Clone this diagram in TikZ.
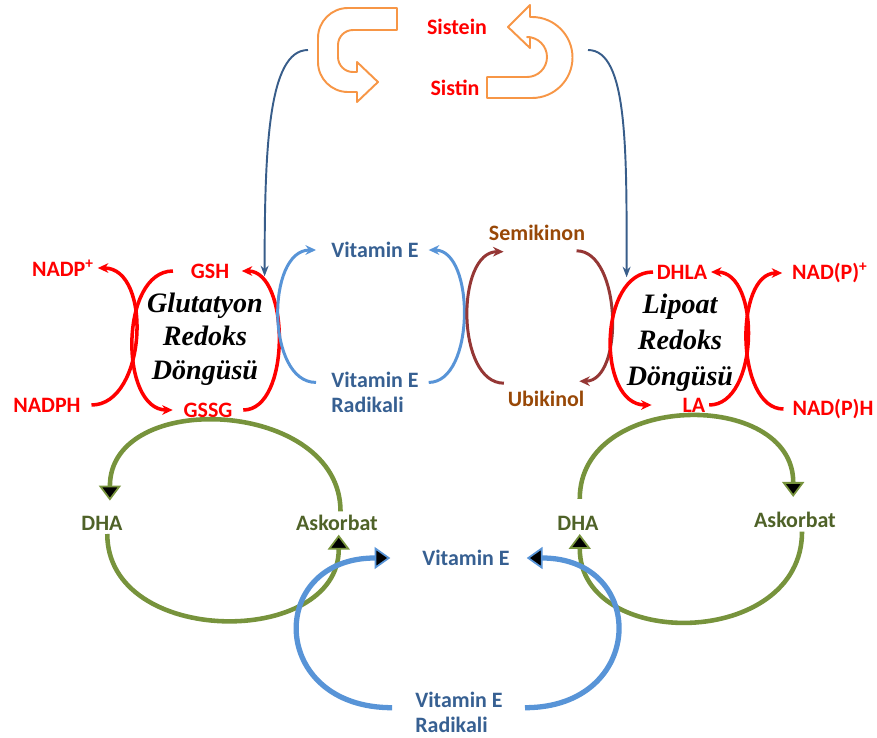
\documentclass[tikz,border=0pt]{standalone}
\usepackage{fontspec}
\setmainfont{Carlito}
\newfontfamily\cyclefont{Liberation Serif}
\usepackage{tikz}
\usetikzlibrary{arrows.meta}

\definecolor{redox}{RGB}{255,0,0}
\definecolor{vitblue}{RGB}{55,96,146}
\definecolor{arcblue}{RGB}{88,148,215}
\definecolor{linkblue}{RGB}{56,93,138}
\definecolor{semibrown}{RGB}{152,72,7}
\definecolor{arcbrown}{RGB}{149,55,53}
\definecolor{cysorange}{RGB}{247,150,70}
\definecolor{ascgreen}{RGB}{119,147,60}
\definecolor{ascdark}{RGB}{79,98,40}

\begin{document}
\begin{tikzpicture}[
    lbl/.style={inner sep=2pt, font=\fontsize{12.5}{14.2}\selectfont\bfseries},
    redlbl/.style={lbl, text=redox},
    vitlbl/.style={lbl, text=vitblue, align=left},
    kinlbl/.style={lbl, text=semibrown},
    asclbl/.style={lbl, text=ascdark},
    cyclbl/.style={font=\cyclefont\bfseries\itshape\fontsize{16}{19}\selectfont, align=center},
    redarc/.style={draw=redox, line width=2pt, -{Stealth[length=6pt,width=5.5pt]}},
    bluearc/.style={draw=arcblue, line width=1.7pt, -{Stealth[length=6pt,width=5.5pt]}},
    brownarc/.style={draw=arcbrown, line width=1.7pt, -{Stealth[length=6pt,width=5.5pt]}},
    cysarrow/.style={draw=linkblue, line width=1.1pt, -{Stealth[length=6pt,width=4.5pt]}},
    greenarc/.style={draw=ascgreen, line width=2.6pt, -{Triangle[length=8.5pt,width=12.5pt,fill=black,line width=1pt]}},
    bigblue/.style={draw=arcblue, line width=3pt, -{Triangle[length=9pt,width=12.5pt,fill=black,line width=1pt]}},
    uturn/.style={draw=cysorange, fill=white, line width=1.1pt, line join=round}
  ]
  \useasboundingbox (0,0) rectangle (17.54,-14.74);

  % Nodes
  \node[redlbl] at (9.14,-0.54) (sistein) {Sistein};
  \node[redlbl] at (9.10,-1.76) (sistin) {Sistin};

  \node[redlbl] at (1.26,-5.36) (nadp) {NADP\textsuperscript{+}};
  \node[redlbl] at (0.94,-8.10) (nadph) {NADPH};
  \node[redlbl] at (4.20,-5.42) (gsh) {GSH};
  \node[redlbl] at (4.16,-8.20) (gssg) {GSSG};
  \node[cyclbl] at (4.10,-6.78) (glut) {Glutatyon\\Redoks\\Döngüsü};

  \node[vitlbl] at (7.50,-5.00) (vite) {Vitamin E};
  \node[vitlbl] at (7.50,-7.85) (vitrad) {Vitamin E\\Radikali};

  \node[kinlbl] at (10.74,-4.66) (semik) {Semikinon};
  \node[kinlbl] at (10.92,-7.98) (ubik) {Ubikinol};

  \node[redlbl] at (13.64,-5.44) (dhla) {DHLA};
  \node[redlbl] at (13.88,-8.10) (la) {LA};
  \node[redlbl] at (16.60,-5.46) (nadpp) {NAD(P)\textsuperscript{+}};
  \node[redlbl] at (16.66,-8.18) (nadpph) {NAD(P)H};
  \node[cyclbl, font=\cyclefont\bfseries\itshape\fontsize{16}{20.5}\selectfont] at (13.60,-6.86) (lipoat) {Lipoat\\Redoks\\Döngüsü};

  \node[asclbl] at (2.04,-10.46) (dhaL) {DHA};
  \node[asclbl] at (6.74,-10.46) (askL) {Askorbat};
  \node[asclbl] at (11.56,-10.46) (dhaR) {DHA};
  \node[asclbl] at (15.90,-10.40) (askR) {Askorbat};

  \node[vitlbl] at (9.32,-11.16) (vitEb) {Vitamin E};
  \node[vitlbl] at (9.18,-14.25) (vitradb) {Vitamin E\\Radikali};

  \coordinate (cysL) at (6.16,-1.00);
  \coordinate (cysR) at (11.76,-1.00);

  % Sistein / Sistin turn arrows
  \draw[uturn] (7.94,-0.16) -- (6.96,-0.16) arc (90:180:0.6) -- (6.36,-1.24) arc (180:270:0.6)
    -- (7.14,-1.84) -- (7.14,-2.04) -- (7.56,-1.64) -- (7.14,-1.24) -- (7.14,-1.44)
    -- (7.06,-1.44) arc (270:180:0.3) -- (6.76,-0.90) arc (180:90:0.3) -- (7.94,-0.60) -- cycle;
  \draw[uturn] (9.74,-1.54) -- (10.54,-1.54) arc (-90:90:0.4) -- (10.60,-0.74) -- (10.60,-0.96)
    -- (10.16,-0.54) -- (10.60,-0.10) -- (10.60,-0.34) -- (10.64,-0.34) arc (90:-90:0.81)
    -- (9.74,-1.96) -- cycle;

  % Arrows
  \draw[cysarrow] (cysL) .. controls +(-0.8,0) and +(0,2.54) .. ([xshift=18pt,yshift=-3pt]gsh.east);
  \draw[cysarrow] (cysR) .. controls +(0.8,0) and +(0,2.54) .. ([xshift=-15pt,yshift=-3pt]dhla.west);

  % glutathione cycle
  \draw[redarc] ([xshift=4pt]nadph.east) .. controls +(1.1,0) and +(1.1,0) .. (nadp.east);
  \draw[redarc] ([xshift=-8pt]gsh.west) .. controls +(-1.07,0) and +(-1.07,0) .. ([xshift=-4pt]gssg.west);
  \draw[redarc] ([xshift=4pt]gssg.east) .. controls +(0.96,0) and +(0.96,0) .. ([xshift=5pt]gsh.east);

  % vitamin E and ubiquinol
  \draw[bluearc] ([xshift=-6.5pt,yshift=-8pt]vitrad.north west) .. controls +(-1.0,0) and +(-1.0,0) .. ([xshift=-6.5pt]vite.west);
  \draw[bluearc] ([xshift=3.5pt,yshift=-8pt]vitrad.north east) .. controls +(0.93,0) and +(0.93,0) .. ([xshift=3.5pt]vite.east);
  \draw[brownarc] ([yshift=9pt]ubik.west) .. controls +(-0.96,0) and +(-0.96,0) .. ([xshift=10.5pt,yshift=-4pt]semik.south west);
  \draw[brownarc] ([xshift=-7pt,yshift=-3.5pt]semik.south east) .. controls +(0.9,0) and +(0.9,0) .. ([xshift=-5pt,yshift=3.5pt]ubik.north east);

  % lipoate cycle
  \draw[redarc] (dhla.west) .. controls +(-1.1,0) and +(-1.1,0) .. ([xshift=-15.5pt]la.west);
  \draw[redarc] (la.east) .. controls +(1.0,0) and +(1.0,0) .. (dhla.east);
  \draw[redarc] ([xshift=-3pt]nadpph.west) .. controls +(-0.96,0) and +(-0.96,0) .. ([xshift=-3.5pt]nadpp.west);

  % ascorbate cycles
  \draw[greenarc] ([xshift=2pt]askL.north) .. controls +(0,2.25) and +(0,2.25) .. ([xshift=4.5pt,yshift=6.5pt]dhaL.north);
  \draw[greenarc] ([xshift=3pt]dhaL.south) .. controls +(0,-2.27) and +(0,-2.27) .. ([xshift=1pt]askL.south);
  \draw[greenarc] ([xshift=1pt,yshift=7.5pt]dhaR.north) .. controls +(0,2.16) and +(0,2.16) .. ([xshift=-1pt,yshift=6.5pt]askR.north);
  \draw[greenarc] ([xshift=4pt]askR.south) .. controls +(0,-2.35) and +(0,-2.35) .. ([xshift=1pt]dhaR.south);

  % vitamin E regeneration
  \draw[bigblue] ([xshift=-11pt,yshift=-11pt]vitradb.north west) .. controls +(-2.48,0) and +(-2.48,0) .. ([xshift=-16pt]vitEb.west);
  \draw[bigblue] ([xshift=10.5pt,yshift=-11pt]vitradb.north east) .. controls +(2.43,0) and +(2.43,0) .. ([xshift=7.5pt]vitEb.east);

\end{tikzpicture}
\end{document}
